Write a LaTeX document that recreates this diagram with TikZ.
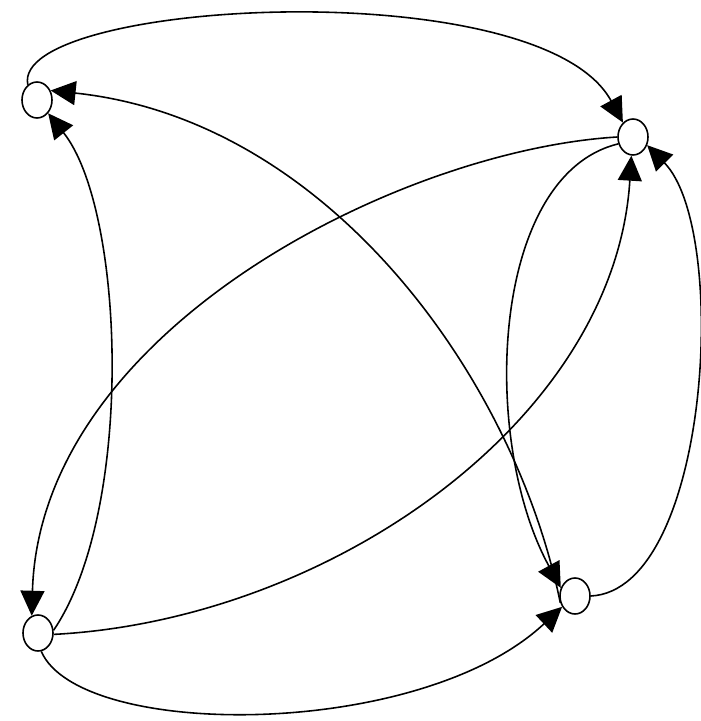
\documentclass[tikz,border=0pt]{standalone}
\usepackage{tikz}
\usetikzlibrary{arrows.meta,shapes.geometric}

\begin{document}
\begin{tikzpicture}[x=0.1mm,y=-0.1mm,
  vtx/.style={draw,ellipse,line width=0.45pt,minimum width=3mm,minimum height=3.6mm,inner sep=0pt},
  arr/.style={line width=0.45pt,-{Triangle[length=2.5mm,width=2.4mm]}}]
\useasboundingbox (0,0) rectangle (700,721);
%--- vertici ---
\node[vtx] (a) at (37,100) {};
\node[vtx] (b) at (633,137) {};
\node[vtx] (c) at (38,633) {};
\node[vtx] (d) at (575,596) {};
% arco superiore a -> b
\draw[arr] (a.121) .. controls (10,0) and (540,-30) .. (b.125);
% d -> a
\draw[arr] (d.205) .. controls (515,380) and (330,120) .. (a.35);
% c -> a
\draw[arr] (c.10) .. controls (135,510) and (125,210) .. (a.-50);
% b -> c
\draw[arr] (b.180) .. controls (400,150) and (40,330) .. (c.110);
% c -> b
\draw[arr] (c.-5) .. controls (330,620) and (615,420) .. (b.-95);
% b -> d
\draw[arr] (b.205) .. controls (490,175) and (480,440) .. (d.150);
% d -> b (lato destro)
\draw[arr] (d.0) .. controls (710,590) and (730,230) .. (b.-30);
% arco inferiore c -> d
\draw[arr] (c.-80) .. controls (80,740) and (420,740) .. (d.-140);
\end{tikzpicture}
\end{document}
